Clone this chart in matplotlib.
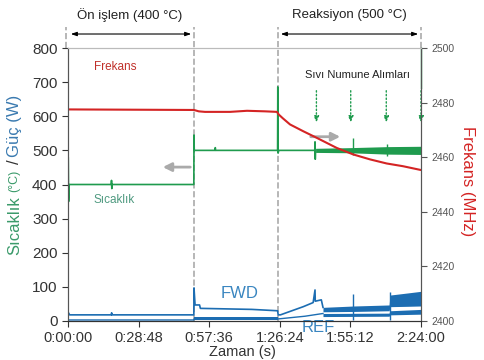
import matplotlib
matplotlib.use("Agg")
import matplotlib.pyplot as plt
from matplotlib.ticker import FuncFormatter, MultipleLocator

plt.rcParams['font.family'] = ['Liberation Sans', 'DejaVu Sans']

# time in seconds
# temperature (left axis)
temp_t = [0, 5, 15, 30, 1060, 1065, 1072, 1080, 3080, 3084, 3090, 3100, 3600, 3605, 3612,
          5130, 5135, 5142, 5160, 6040, 6046, 6052, 6060]
temp_v = [0, 480, 350, 400, 400, 412, 388, 400, 400, 545, 500, 500, 500, 508, 500,
          500, 686, 492, 500, 500, 525, 474, 500]
temp_band_t = [6060, 6900, 7830, 8640]
temp_band_lo = [494, 493, 489, 488]
temp_band_hi = [506, 508, 511, 512]
temp_spike_t = [6968, 7800]
temp_spike_lo = [486, 483]
temp_spike_hi = [536, 520]

# frequency (right axis)
freq_t = [0, 3084, 3200, 3353, 3965, 4381, 4822, 5115, 5160, 5262, 5434, 5759, 6087,
          6577, 6983, 7392, 7800, 8199, 8640]
freq_v = [2477.5, 2477.3, 2476.8, 2476.6, 2476.6, 2477.0, 2476.8, 2476.6, 2475.6, 2474.2,
          2472.0, 2469.5, 2467.1, 2463.4, 2461.0, 2459.2, 2457.7, 2456.7, 2455.3]

# forward power
fwd_t = [0, 2, 40, 1060, 1068, 1076, 3080, 3084, 3110, 3220, 3240, 4500, 5130, 5145,
         5200, 5759, 6000, 6046, 6052, 6200, 6241]
fwd_v = [0, 26, 18, 18, 24, 18, 18, 97, 47, 47, 37, 34, 30, 18,
         18, 42, 54, 91, 58, 62, 40]
fwd_band_t = [6241, 7000, 7860, 7880, 8300, 8640]
fwd_band_lo = [27, 28, 30, 42, 43, 44]
fwd_band_hi = [40, 44, 47, 76, 82, 87]
fwd_spike_t = [6968, 7881]
fwd_spike_hi = [79, 84]

# reflected power
ref_t = [0, 3084, 3084, 5140, 5800, 6241]
ref_v = [3, 3, 6, 6, 14, 22]
ref_band_t = [3090, 5140]
ref_band_lo = [3, 3]
ref_band_hi = [11, 11]
ref2_band_t = [6241, 7860, 7880, 8640]
ref2_band_lo = [13, 14, 18, 20]
ref2_band_hi = [22, 23, 30, 34]

sample_t = [6080, 6920, 7790, 8640]
phase_lines = [3084, 5140]

green = '#1f9b4e'
blue = '#1c6db2'
red = '#d42424'

fig = plt.figure(figsize=(4.85, 3.6), dpi=100)
ax = fig.add_axes([68/485, 39/360, 353/485, 273/360])
ax2 = ax.twinx()

# blue (power)
ax.plot(ref_t, ref_v, color=blue, lw=1)
ax.fill_between(ref_band_t, ref_band_lo, ref_band_hi, color=blue, lw=0)
ax.fill_between(ref2_band_t, ref2_band_lo, ref2_band_hi, color=blue, lw=0)
ax.plot(fwd_t, fwd_v, color=blue, lw=1.2)
ax.fill_between(fwd_band_t, fwd_band_lo, fwd_band_hi, color=blue, lw=0)
ax.vlines(fwd_spike_t, 2, fwd_spike_hi, color=blue, lw=1)

# green (temperature)
ax.plot(temp_t, temp_v, color=green, lw=1.2)
ax.fill_between(temp_band_t, temp_band_lo, temp_band_hi, color=green, lw=0)
ax.vlines(temp_spike_t, temp_spike_lo, temp_spike_hi, color=green, lw=1)

# red (frequency)
ax2.plot(freq_t, freq_v, color=red, lw=1.5)

ax.set_xlim(0, 8640)
ax.set_ylim(0, 800)
ax2.set_ylim(2400, 2500)
ax.xaxis.set_major_locator(MultipleLocator(1728))
ax.xaxis.set_major_formatter(FuncFormatter(
    lambda t, p: f"{int(t // 3600)}:{int(t % 3600 // 60):02d}:{int(t % 60):02d}"))
ax.yaxis.set_major_locator(MultipleLocator(100))
ax2.yaxis.set_major_locator(MultipleLocator(20))
ax.tick_params(axis='x', labelsize=10.5, colors='#333333', length=4)
ax.tick_params(axis='y', labelsize=11, colors='#333333', length=4)
ax2.tick_params(axis='y', labelsize=7.5, colors='#555555', length=4)
for a in (ax, ax2):
    a.spines['top'].set_color('#bbbbbb')
    a.spines['left'].set_color('#555555')
    a.spines['right'].set_color('#555555')
    a.spines['bottom'].set_color('#333333')

# phase dashed lines
for t in phase_lines:
    ax.plot([t, t], [0, 862], color='#aaaaaa', ls='--', lw=1.2, clip_on=False, zorder=0)
for t in [-60, 8640]:
    ax.plot([t, t], [800, 862], color='#aaaaaa', ls='--', lw=1.2, clip_on=False, zorder=0)
arrow_kw = dict(arrowstyle='<|-|>,head_length=0.35,head_width=0.12', color='black', lw=0.8)
ax.annotate('', xy=(0, 841), xytext=(3084, 841), arrowprops=arrow_kw, annotation_clip=False)
ax.annotate('', xy=(5140, 841), xytext=(8640, 841), arrowprops=arrow_kw, annotation_clip=False)
ax.text(1517, 897, 'Ön işlem (400 °C)', ha='center', va='center', fontsize=9.5,
        color='#222222', clip_on=False)
ax.text(6878, 897, 'Reaksiyon (500 °C)', ha='center', va='center', fontsize=9.5,
        color='#222222', clip_on=False)

# gray direction arrows
gray_kw = dict(arrowstyle='-|>,head_length=0.5,head_width=0.25', color='#aaaaaa', lw=2)
ax.annotate('', xy=(2252, 451), xytext=(3060, 451), arrowprops=gray_kw)
ax.annotate('', xy=(6731, 540), xytext=(5874, 540), arrowprops=gray_kw)

# sampling arrows
for t in sample_t:
    ax.annotate('', xy=(t, 574), xytext=(t, 683), annotation_clip=False,
                arrowprops=dict(arrowstyle='-|>,head_length=0.35,head_width=0.15',
                                color=green, lw=1, ls=':'))
ax.plot([8640, 8640], [683, 800], color=green, lw=1, clip_on=False)
ax.text(5801, 721, 'Sıvı Numune Alımları', ha='left', va='center', fontsize=8,
        color='#222222')

ax.text(636, 744, 'Frekans', ha='left', va='center', fontsize=8.5, color='#c0302a')
ax.text(612, 354, 'Sıcaklık', ha='left', va='center', fontsize=8.5, color='#4f9a80')
ax.text(4210, 82, 'FWD', ha='center', va='center', fontsize=12, color='#3a86c0')
ax.text(6119, -20, 'REF', ha='center', va='center', fontsize=12, color='#3a86c0',
        clip_on=False, zorder=5)

# axis labels
fig.text(14.5/485, 1 - 226/360, 'Sıcaklık', rotation=90, ha='center', va='center',
         fontsize=12, color='#3a9a6a')
fig.text(14.5/485, 1 - 181/360, '(°C)', rotation=90, ha='center', va='center',
         fontsize=9, color='#3a9a6a')
fig.text(14.5/485, 1 - 162/360, '/', rotation=90, ha='center', va='center',
         fontsize=12, color='#333333')
fig.text(14.5/485, 1 - 125.5/360, 'Güç (W)', rotation=90, ha='center', va='center',
         fontsize=12, color='#3a7ab0')
fig.text(468/485, 1 - 181/360, 'Frekans (MHz)', rotation=270, ha='center', va='center',
         fontsize=12, color='#d42424')
fig.text(242/485, 1 - 352/360, 'Zaman (s)', ha='center', va='center', fontsize=10.5,
         color='#333333')

fig.savefig('out.png', dpi=100)
